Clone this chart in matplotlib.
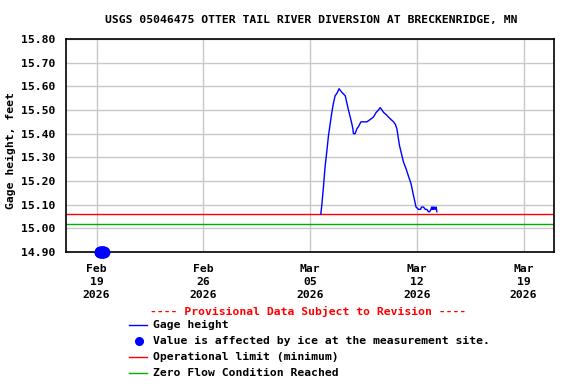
import matplotlib
matplotlib.use("Agg")
import matplotlib.pyplot as plt
import matplotlib.dates as mdates
from matplotlib.lines import Line2D
import pandas as pd

title = "USGS 05046475 OTTER TAIL RIVER DIVERSION AT BRECKENRIDGE, MN"
ylabel = "Gage height, feet"

gage_times = [
    "2026-03-05 17:00", "2026-03-05 18:40", "2026-03-05 21:00", "2026-03-05 23:45",
    "2026-03-06 02:40", "2026-03-06 05:00", "2026-03-06 07:40", "2026-03-06 10:20",
    "2026-03-06 13:00", "2026-03-06 15:30", "2026-03-06 18:15", "2026-03-06 21:50",
    "2026-03-07 00:30", "2026-03-07 03:50", "2026-03-07 07:30", "2026-03-07 10:00",
    "2026-03-07 12:30", "2026-03-07 15:20", "2026-03-07 18:00", "2026-03-07 19:30",
    "2026-03-07 20:20", "2026-03-07 23:00", "2026-03-08 01:40", "2026-03-08 04:20",
    "2026-03-08 08:10", "2026-03-08 12:15", "2026-03-08 17:30", "2026-03-08 22:50",
    "2026-03-09 03:50", "2026-03-09 08:10", "2026-03-09 11:45", "2026-03-09 14:25",
    "2026-03-09 17:15", "2026-03-09 19:40", "2026-03-10 00:00", "2026-03-10 03:35",
    "2026-03-10 07:25", "2026-03-10 11:30", "2026-03-10 14:10", "2026-03-10 16:50",
    "2026-03-10 18:30", "2026-03-10 20:50", "2026-03-10 23:30", "2026-03-11 03:10",
    "2026-03-11 07:25", "2026-03-11 11:00", "2026-03-11 14:50", "2026-03-11 18:00",
    "2026-03-11 20:25", "2026-03-11 22:50", "2026-03-12 02:50", "2026-03-12 06:00",
    "2026-03-12 07:30", "2026-03-12 10:35", "2026-03-12 13:25", "2026-03-12 16:00",
    "2026-03-12 18:30", "2026-03-12 20:10", "2026-03-12 22:20", "2026-03-12 23:30",
    "2026-03-13 00:30", "2026-03-13 01:25", "2026-03-13 02:30", "2026-03-13 03:30",
    "2026-03-13 05:00", "2026-03-13 06:30", "2026-03-13 07:40",
]
gage_values = [
    15.06, 15.10, 15.17, 15.26,
    15.33, 15.39, 15.44, 15.49,
    15.53, 15.56, 15.57, 15.59,
    15.58, 15.57, 15.56, 15.53,
    15.50, 15.47, 15.44, 15.42,
    15.40, 15.40, 15.42, 15.43,
    15.45, 15.45, 15.45, 15.46,
    15.47, 15.49, 15.50, 15.51,
    15.50, 15.49, 15.48, 15.47,
    15.46, 15.45, 15.44, 15.42,
    15.39, 15.35, 15.32, 15.28,
    15.25, 15.22, 15.19, 15.15,
    15.12, 15.09, 15.08, 15.08,
    15.09, 15.09, 15.08, 15.08,
    15.07, 15.07, 15.08, 15.09,
    15.08, 15.09, 15.08, 15.09,
    15.08, 15.09, 15.07,
]

ice_times = ["2026-02-19 05:00", "2026-02-19 06:00", "2026-02-19 07:00", "2026-02-19 08:00",
             "2026-02-19 09:00", "2026-02-19 10:00", "2026-02-19 11:00", "2026-02-19 12:00"]
ice_values = [14.90, 14.90, 14.90, 14.90, 14.90, 14.90, 14.90, 14.90]

operational_limit = 15.06
zero_flow = 15.02

x_ticks = ["2026-02-19", "2026-02-26", "2026-03-05", "2026-03-12", "2026-03-19"]
x_tick_labels = ["Feb\n19\n2026", "Feb\n26\n2026", "Mar\n05\n2026", "Mar\n12\n2026", "Mar\n19\n2026"]
y_ticks = [14.90, 15.00, 15.10, 15.20, 15.30, 15.40, 15.50, 15.60, 15.70, 15.80]
x_range = ["2026-02-17", "2026-03-21"]

legend_title = "---- Provisional Data Subject to Revision ----"
legend_labels = ["Gage height", "Value is affected by ice at the measurement site.",
                 "Operational limit (minimum)", "Zero Flow Condition Reached"]

FONT = "DejaVu Sans Mono"
FS = 8.2

W, H = 576, 384
fig = plt.figure(figsize=(W / 100, H / 100), dpi=100)
L, R, T, B = 66, 554, 39, 252
ax = fig.add_axes([L / W, 1 - B / H, (R - L) / W, (B - T) / H])

ax.axhline(operational_limit, color="#ff0000", lw=1.0, zorder=2)
ax.axhline(zero_flow, color="#00b000", lw=1.0, zorder=2)
ax.plot(pd.to_datetime(gage_times), gage_values, color="#0000ff", lw=1.0, zorder=3)
ax.plot(pd.to_datetime(ice_times), ice_values, "o", color="#0000ff", ms=7.5,
        mec="#0000ff", zorder=4, clip_on=False)

ax.set_xlim(pd.to_datetime(x_range[0]), pd.to_datetime(x_range[1]))
ax.set_ylim(y_ticks[0], y_ticks[-1])
ax.set_xticks(pd.to_datetime(x_ticks))
ax.set_xticklabels(x_tick_labels, fontfamily=FONT, fontweight="bold", fontsize=FS,
                   linespacing=1.35)
ax.set_yticks(y_ticks)
ax.set_yticklabels([f"{v:.2f}" for v in y_ticks], fontfamily=FONT, fontweight="bold",
                   fontsize=FS)
ax.tick_params(axis="both", length=0)
ax.tick_params(axis="y", pad=8)
ax.tick_params(axis="x", pad=9)
ax.grid(True, color="#c8c8c8", lw=1.0, zorder=0)
ax.set_axisbelow(True)
for s in ax.spines.values():
    s.set_color("black")
    s.set_linewidth(1.2)

fig.text(0.5 * (L + R) / W + 0.002, 1 - 20 / H, title, ha="center", va="center",
         fontfamily=FONT, fontweight="bold", fontsize=FS)
fig.text(11 / W, 1 - 151 / H, ylabel, ha="center", va="center", rotation=90,
         fontfamily=FONT, fontweight="bold", fontsize=FS)

fig.text(308 / W, 1 - 311 / H, legend_title, ha="center", va="center",
         fontfamily=FONT, fontweight="bold", fontsize=FS, color="#ff0000")
rows_y = [325, 341, 357, 373]
styles = [("#0000ff", "line"), ("#0000ff", "marker"), ("#ff0000", "line"), ("#00b000", "line")]
for yy, (c, kind), lab in zip(rows_y, styles, legend_labels):
    yf = 1 - yy / H
    if kind == "line":
        fig.add_artist(Line2D([129 / W, 147 / W], [yf, yf], color=c, lw=1.0,
                              transform=fig.transFigure))
    else:
        fig.add_artist(Line2D([139 / W], [yf], marker="o", ms=5.5, color=c, mec=c,
                              transform=fig.transFigure))
    fig.text(153 / W, yf, lab, ha="left", va="center", fontfamily=FONT,
             fontweight="bold", fontsize=FS)

fig.savefig("out.png", dpi=100)
